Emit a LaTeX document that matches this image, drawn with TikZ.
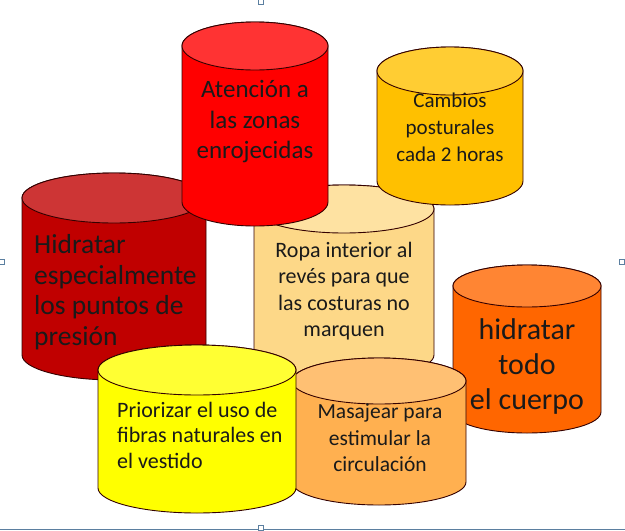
\documentclass[tikz,border=0pt]{standalone}
\usepackage{fontspec}
\setmainfont{Carlito}
\definecolor{cRed}{HTML}{FF0000}
\definecolor{cRedTop}{HTML}{FF3333}
\definecolor{cDark}{HTML}{C00000}
\definecolor{cDarkTop}{HTML}{CD3535}
\definecolor{cGold}{HTML}{FFC000}
\definecolor{cGoldTop}{HTML}{FFCD33}
\definecolor{cPale}{HTML}{FDD888}
\definecolor{cPaleTop}{HTML}{FEE2A2}
\definecolor{cOrange}{HTML}{FF6600}
\definecolor{cOrangeTop}{HTML}{FF8533}
\definecolor{cYellow}{HTML}{FFFF00}
\definecolor{cYellowTop}{HTML}{FFFF33}
\definecolor{cPeach}{HTML}{FFB050}
\definecolor{cPeachTop}{HTML}{FFC073}
\definecolor{cFrame}{HTML}{5B7FA0}
\definecolor{cText}{HTML}{1A1A1A}
\newcommand\mycyl[7]{% cx, ytop, ybot, rx, ry, body, top
  \path[cylline, fill=#6] (#1-#4,-#2) -- (#1-#4,-#3)
     arc[start angle=180,end angle=360,x radius=#4,y radius=#5]
     -- (#1+#4,-#2)
     arc[start angle=0,end angle=180,x radius=#4,y radius=#5] -- cycle;
  \path[cylline, fill=#7] (#1,-#2) ellipse[x radius=#4,y radius=#5];
}
\begin{document}
\begin{tikzpicture}[x=1pt,y=1pt,
  cylline/.style={draw=black!80!red, line width=0.9pt},
  lbl/.style={text=cText, align=center, inner sep=0pt},
  lbll/.style={text=cText, align=left, inner sep=0pt, anchor=west},
  handle/.style={draw=cFrame, fill=white, line width=0.6pt}]
\useasboundingbox (0,0) rectangle (625,-531);
\fill[white] (0,0) rectangle (625,-531);

% selection frame
\draw[cFrame, line width=1pt] (0,-529.5) -- (625,-529.5);
\node[handle, minimum size=5pt, inner sep=0pt] (h1) at (261,-1.5) {};
\node[handle, minimum size=5pt, inner sep=0pt] (h2) at (2,-262) {};
\node[handle, minimum size=5pt, inner sep=0pt] (h3) at (622,-262) {};
\node[handle, minimum size=5pt, inner sep=0pt] (h4) at (261,-528) {};

% cylinders, back to front
\mycyl{114}{198}{355}{92}{25}{cDark}{cDarkTop}
\mycyl{344}{209}{355}{90}{24}{cPale}{cPaleTop}
\mycyl{255}{46}{202}{73}{24}{cRed}{cRedTop}
\mycyl{450}{71}{181}{73}{24}{cGold}{cGoldTop}
\mycyl{527}{286}{412}{74}{21}{cOrange}{cOrangeTop}
\mycyl{379}{381}{482}{87}{23}{cPeach}{cPeachTop}
\mycyl{197}{370}{488}{99}{25}{cYellow}{cYellowTop}

% labels
\node[lbl, font=\fontsize{25}{30.5}\selectfont] (t1) at (255,-122) {Atención a\\las zonas\\enrojecidas};
\node[lbl, font=\fontsize{21}{27}\selectfont] (t2) at (450,-127) {Cambios\\posturales\\cada 2 horas};
\node[lbll, font=\fontsize{27.5}{30.5}\selectfont] (t3) at (34,-292) {Hidratar\\especialmente\\los puntos de\\presión};
\node[lbl, font=\fontsize{22}{26.5}\selectfont] (t4) at (344,-291) {Ropa interior al\\revés para que\\las costuras no\\marquen};
\node[lbl, font=\fontsize{30}{35}\selectfont] (t5) at (527,-366) {hidratar\\todo\\el cuerpo};
\node[lbll, font=\fontsize{22}{25.5}\selectfont] (t6) at (117,-435) {Priorizar el uso de\\fibras naturales en\\el vestido};
\node[lbl, font=\fontsize{21.5}{26.5}\selectfont] (t7) at (380,-438) {Masajear para\\estimular la\\circulación};
\end{tikzpicture}
\end{document}
